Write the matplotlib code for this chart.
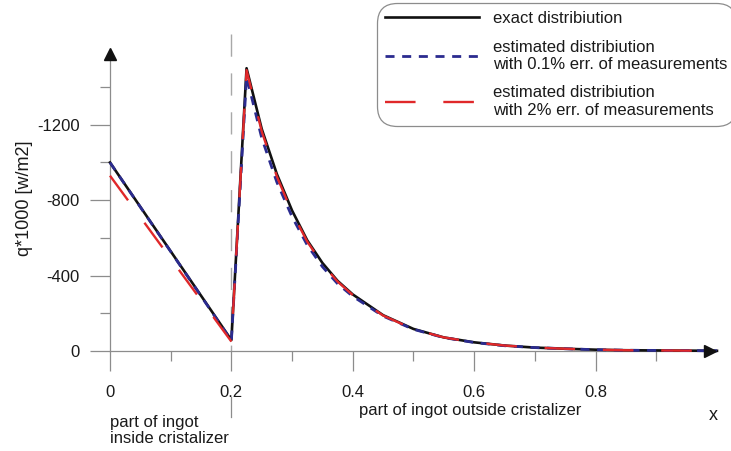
import matplotlib
matplotlib.use('Agg')
import matplotlib.pyplot as plt
from matplotlib.ticker import FixedLocator, FixedFormatter

plt.rcParams['font.family'] = ['Liberation Sans', 'DejaVu Sans']
plt.rcParams['lines.scale_dashes'] = False

# ---- data ----
x = [0.0, 0.2, 0.225, 0.25, 0.275, 0.3, 0.325, 0.35, 0.375, 0.4, 0.45, 0.5,
     0.55, 0.6, 0.65, 0.7, 0.75, 0.8, 0.85, 0.9, 0.95, 1.0]
q_exact = [-1000, -58, -1500, -1178, -938, -745, -587, -467, -372, -300, -190,
           -117, -72, -46, -29, -18, -12, -7, -4, -3, -2, -1]
q_est01 = [-1000, -55, -1455, -1130, -895, -712, -562, -447, -357, -290, -185,
           -115, -71, -45, -28, -18, -12, -7, -4, -3, -2, -1]
q_est2 = [-930, -50, -1490, -1165, -925, -735, -580, -462, -368, -297, -188,
          -116, -72, -46, -29, -18, -12, -7, -4, -3, -2, -1]

labels = ['exact distribiution',
          'estimated distribiution\nwith 0.1% err. of measurements',
          'estimated distribiution\nwith 2% err. of measurements']

x_major = [0, 0.2, 0.4, 0.6, 0.8]
x_major_labels = ['0', '0.2', '0.4', '0.6', '0.8']
x_minor = [0.1, 0.3, 0.5, 0.7, 0.9]
y_major = [0, -400, -800, -1200]
y_major_labels = ['0', '-400', '-800', '-1200']
y_minor = [-200, -600, -1000, -1400]

GRAY = '#8c8c8c'
TXT = '#1a1a1a'

fig = plt.figure(figsize=(7.31, 4.51), dpi=100)
ax = fig.add_axes([0, 0, 1, 1])
ax.set_xlim(-0.1812, 1.0231)
ax.set_ylim(530.5, -1862)

for s in ['top', 'right']:
    ax.spines[s].set_visible(False)
ax.spines['left'].set_position(('data', 0))
ax.spines['bottom'].set_position(('data', 0))
ax.spines['left'].set_bounds(-1545, 0)
ax.spines['bottom'].set_bounds(0, 0.985)
for s in ['left', 'bottom']:
    ax.spines[s].set_color(GRAY)
    ax.spines[s].set_linewidth(0.9)

ax.xaxis.set_major_locator(FixedLocator(x_major))
ax.xaxis.set_major_formatter(FixedFormatter(x_major_labels))
ax.xaxis.set_minor_locator(FixedLocator(x_minor))
ax.yaxis.set_major_locator(FixedLocator(y_major))
ax.yaxis.set_major_formatter(FixedFormatter(y_major_labels))
ax.yaxis.set_minor_locator(FixedLocator(y_minor))

ax.tick_params(axis='x', which='major', direction='out', length=14.4, width=0.9,
               color=GRAY, pad=10, labelsize=12, labelcolor=TXT)
ax.tick_params(axis='x', which='minor', direction='out', length=7, width=0.9, color=GRAY)
ax.tick_params(axis='y', which='major', direction='out', length=14.4, width=0.9,
               color=GRAY, pad=7.5, labelsize=12, labelcolor=TXT)
ax.tick_params(axis='y', which='minor', direction='out', length=7, width=0.9, color=GRAY)

# divider between the two parts of the ingot
ax.plot([0.2, 0.2], [-1680, 0], color='#a8a8a8', lw=1.0, dashes=(16, 12), zorder=1)
ax.plot([0.2, 0.2], [244, 350], color=GRAY, lw=0.9, zorder=1)

# curves
ax.plot(x, q_exact, color='#111111', lw=1.9, label=labels[0], zorder=3)
ax.plot(x, q_est01, color='#2b2b8f', lw=2.0, dashes=(6.5, 5.5), label=labels[1], zorder=4)
ax.plot(x, q_est2, color='#e0282a', lw=1.7, dashes=(22, 20), label=labels[2], zorder=5)

# axis arrows
ax.plot([0], [-1573], marker='^', ms=8.5, color='#111111', lw=0, clip_on=False, zorder=6)
ax.plot([0.988], [0], marker='>', ms=8.5, color='#111111', lw=0, clip_on=False, zorder=6)

# axis labels
ax.set_ylabel('q*1000 [w/m2]', fontsize=13, color=TXT)
ax.yaxis.set_label_coords(33 / 731, 1 - 198 / 451)
ax.set_xlabel('x', fontsize=13, color=TXT)
ax.xaxis.set_label_coords(713 / 731, 1 - 407 / 451)

ax.text(0.593, 313, 'part of ingot outside cristalizer', fontsize=12, color=TXT,
        ha='center', va='center')
ax.text(0.0, 422, 'part of ingot\ninside cristalizer', fontsize=12, color=TXT,
        ha='left', va='center', linespacing=1.1)

leg = ax.legend(loc='upper left', bbox_to_anchor=(377 / 731, 1 - 3 / 451),
                bbox_transform=fig.transFigure, borderaxespad=0, borderpad=0.5,
                handlelength=5.64, handletextpad=0.84, labelspacing=0.8,
                fontsize=12, frameon=True, fancybox=True, edgecolor=GRAY,
                framealpha=1)
leg.get_frame().set_boxstyle('round,pad=0,rounding_size=1.2')
leg.get_frame().set_linewidth(0.9)
for t in leg.get_texts():
    t.set_linespacing(1.2)
    t.set_color(TXT)

fig.savefig('out.png', dpi=100)
